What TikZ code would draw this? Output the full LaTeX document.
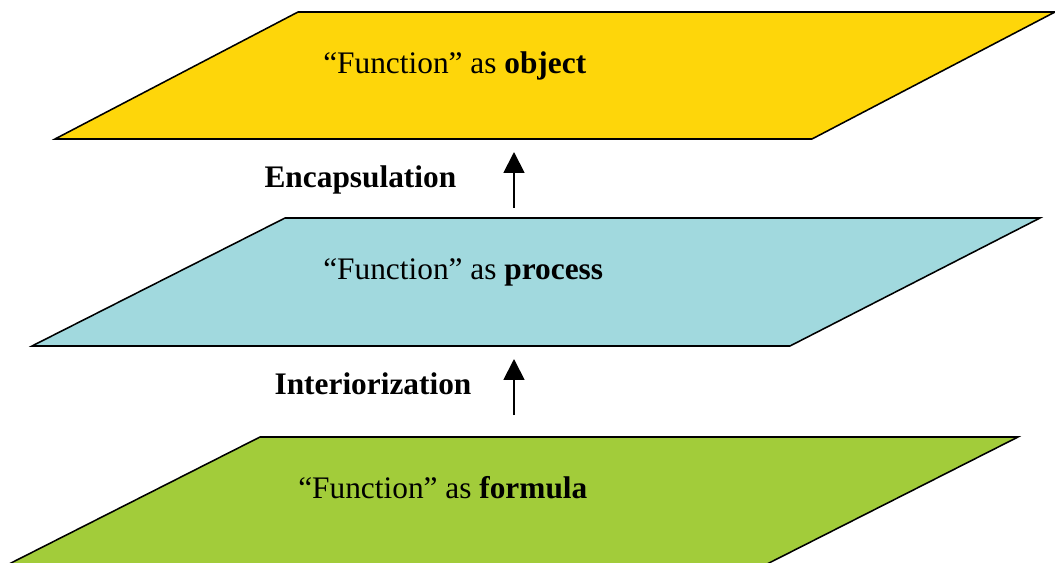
\documentclass[tikz,border=0pt]{standalone}
\usepackage{fontspec}
\setmainfont{Liberation Serif}
\usetikzlibrary{arrows.meta}
\definecolor{objectyellow}{RGB}{254,214,10}
\definecolor{processcyan}{RGB}{161,217,222}
\definecolor{formulagreen}{RGB}{162,204,58}
\tikzset{
	plane/.style={draw=black, line width=1.1pt, line join=miter},
	planetext/.style={anchor=base west, inner sep=0pt, font=\fontsize{22.3}{27}\selectfont},
	steplabel/.style={anchor=base, inner sep=0pt, font=\fontsize{22.3}{27}\selectfont\bfseries},
	lift/.style={line width=1.3pt, -{Triangle[width=5.2mm, length=5.2mm]}}
}
\begin{document}
\begin{tikzpicture}
		\clip (0, 0) rectangle (26.375, 14.05);
		% planes
		\filldraw [plane, fill=objectyellow] (7.45, 13.75) -- (26.375, 13.75) -- (20.3, 10.575) -- (1.375, 10.575) -- cycle;
		\filldraw [plane, fill=processcyan] (7.125, 8.6) -- (26, 8.6) -- (19.75, 5.4) -- (.8, 5.4) -- cycle;
		\filldraw [plane, fill=formulagreen] (-.663, -.5) -- (6.5, 3.125) -- (25.45, 3.125) -- (18.287, -.5) -- cycle;
		\node [planetext] (object) at (8.075, 12.218) {``Function'' as \textbf{object}};
		\node [planetext] (process) at (8.075, 7.05) {``Function'' as \textbf{process}};
		\node [planetext] (formula) at (7.45, 1.6) {``Function'' as \textbf{formula}};
		% arrows between the planes
		\coordinate (encapTail) at (12.85, 8.85);
		\coordinate (encapTip) at (12.85, 10.25);
		\coordinate (interTail) at (12.85, 3.675);
		\coordinate (interTip) at (12.85, 5.075);
		\draw [lift] (encapTail) -- (encapTip);
		\draw [lift] (interTail) -- (interTip);
		\node [steplabel] (encapsulation) at (9.01, 9.35) {Encapsulation};
		\node [steplabel] (interiorization) at (9.325, 4.175) {Interiorization};
	\end{tikzpicture}
\end{document}
